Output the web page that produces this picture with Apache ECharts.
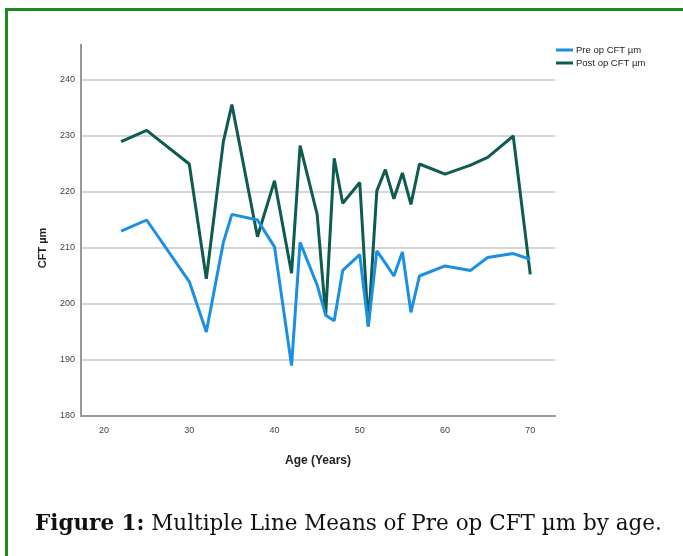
<!DOCTYPE html>
<html>
<head>
<meta charset="utf-8">
<script src="https://cdn.jsdelivr.net/npm/echarts@6/dist/echarts.min.js"></script>
<style>
html,body{margin:0;padding:0;background:#fff;}
#wrap{position:relative;width:683px;height:556px;overflow:hidden;background:#fff;}
#frame{position:absolute;left:5px;top:8px;width:700px;height:600px;border-left:3px solid #1f8a1f;border-top:3px solid #1f8a1f;box-sizing:border-box;}
#chart{position:absolute;left:0;top:0;width:683px;height:556px;}
#cap{position:absolute;left:35px;top:510px;font-family:"DejaVu Serif","Liberation Serif",serif;font-size:21.5px;color:#111;white-space:nowrap;}
</style>
</head>
<body>
<div id="wrap">
<div id="frame"></div>
<div id="chart"></div>
<div id="cap"><b>Figure 1:</b> Multiple Line Means of Pre op CFT µm by age.</div>
</div>
<script>
const ages = [22,25,30,32,34,35,38,40,42,43,45,46,47,48,50,51,52,53,54,55,56,57,60,63,65,68,70];
const preOp = [213,215,204,195,211,216,215,210.2,189,211,203.4,198,197,206,208.8,196,209.5,207.3,205,209.3,198.5,205,206.8,206,208.3,209,208];
const postOp = [229,231,225,204.5,229,235.6,212,222,205.5,228.3,216,198,226,218,221.7,196,220.2,224,218.8,223.4,217.8,225,223.2,224.8,226.2,230,205.3];
const seriesNames = ['Pre op CFT µm','Post op CFT µm'];
const xName = 'Age (Years)';
const yName = 'CFT µm';

const font = '"Liberation Sans Narrow","Liberation Sans",Arial,sans-serif';
const chart = echarts.init(document.getElementById('chart'), null, {renderer:'canvas'});
const pair = arr => ages.map((a,i)=>[a,arr[i]]);
chart.setOption({
  animation:false,
  grid:{left:81,right:128,top:80,bottom:140,containLabel:false},
  legend:{
    orient:'vertical',left:551,top:40,itemWidth:17,itemHeight:3,itemGap:3,icon:'rect',
    textStyle:{fontFamily:font,fontSize:9.5,color:'#222',padding:[0,0,0,-2]},
    data:seriesNames
  },
  xAxis:{
    type:'value',min:17.3,max:72.9,
    name:xName,nameLocation:'middle',nameGap:39,
    nameTextStyle:{fontFamily:font,fontSize:12,fontWeight:'bold',color:'#222'},
    axisLine:{show:true,lineStyle:{color:'#999',width:2}},
    axisTick:{show:false},
    splitLine:{show:false},
    axisLabel:{fontFamily:font,fontSize:9,color:'#444',margin:10,showMinLabel:false,showMaxLabel:false,
      formatter:v=> (Math.abs(v%10)<1e-6 ? String(v) : '')}
  },
  yAxis:{
    type:'value',min:180,max:240,interval:10,
    name:yName,nameLocation:'middle',nameGap:33,nameRotate:90,
    nameTextStyle:{fontFamily:font,fontSize:11,fontWeight:'bold',color:'#222'},
    axisLine:{show:true,lineStyle:{color:'#999',width:2}},
    axisTick:{show:false},
    splitLine:{show:true,lineStyle:{color:'#d6d6d6',width:2}},
    axisLabel:{fontFamily:font,fontSize:9,color:'#444',margin:6}
  },
  graphic:[
    {type:'line',shape:{x1:81,y1:44,x2:81,y2:80},style:{stroke:'#999',lineWidth:2},z:10}
  ],
  series:[
    {name:seriesNames[0],type:'line',data:pair(preOp),symbol:'none',lineStyle:{color:'#1a8fe3',width:3},itemStyle:{color:'#1a8fe3'},z:3},
    {name:seriesNames[1],type:'line',data:pair(postOp),symbol:'none',lineStyle:{color:'#0e5b52',width:3},itemStyle:{color:'#0e5b52'},z:2}
  ]
});
</script>
</body>
</html>
